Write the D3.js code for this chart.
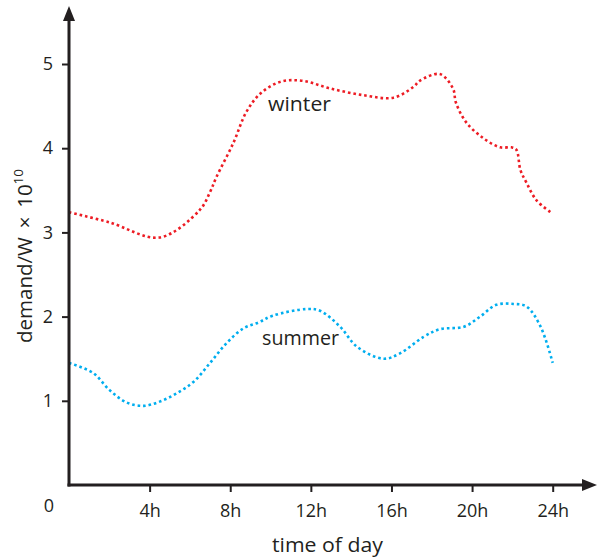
<!DOCTYPE html>
<html><head><meta charset="utf-8">
<script src="https://cdn.jsdelivr.net/npm/d3@7"></script>
<style>body{margin:0;background:#fff}svg{display:block}text{font-family:"Open Sans","Noto Sans",sans-serif;fill:#231f20}</style>
</head><body>
<svg id="c" width="597" height="557"></svg>
<script>
const winterHours = [0,2,4.5,6.5,7,7.3,8.15,8.8,9.5,10.5,11.6,12.95,14.6,16.1,17.1,17.4,18.4,19.05,19.2,19.7,20.55,21.4,21.97,22.2,22.4,22.7,23.2,23.95];
const winterValues = [3.24,3.12,2.94,3.27,3.48,3.65,4.06,4.43,4.65,4.79,4.80,4.71,4.63,4.60,4.73,4.80,4.88,4.71,4.54,4.31,4.12,4.01,4.01,3.98,3.74,3.59,3.38,3.23];
const summerHours = [0,1.2,2,2.86,3.7,4.5,5.35,6.2,7,7.8,8.65,9.4,10.1,11.8,12.45,13.45,14.3,15.6,16.4,17.6,18.4,19.6,20.4,21.2,22.05,22.7,23.4,24];
const summerValues = [1.45,1.33,1.13,0.98,0.94,0.99,1.09,1.23,1.45,1.68,1.86,1.93,2.01,2.09,2.07,1.88,1.64,1.50,1.56,1.76,1.85,1.88,2.00,2.14,2.15,2.12,1.88,1.45];
const xTicks = [4,8,12,16,20,24];
const xTickLabels = ["4h","8h","12h","16h","20h","24h"];
const yTicks = [1,2,3,4,5];

const svg = d3.select("#c");
const x = d3.scaleLinear().domain([0,24]).range([69,552.7]);
const y = d3.scaleLinear().domain([0,5]).range([485,64]);
const ink = "#231f20";

const line = d3.line().x(d=>x(d[0])).y(d=>y(d[1])).curve(d3.curveCatmullRom.alpha(0.5));
function series(h,v,color){
  svg.append("path").datum(h.map((t,i)=>[t,v[i]])).attr("d",line)
    .attr("fill","none").attr("stroke",color).attr("stroke-width",2.6)
    .attr("stroke-dasharray","2.6,2.9");
}
series(winterHours,winterValues,"#ed1c24");
series(summerHours,summerValues,"#00aeef");

// axes
const yAxis = d3.axisLeft(y).tickValues(yTicks).tickSize(7).tickPadding(9).tickFormat(d3.format("d"));
const gy = svg.append("g").attr("transform","translate(69,0)").call(yAxis);
gy.select(".domain").remove();
gy.selectAll(".tick line").attr("stroke",ink).attr("stroke-width",2);
gy.selectAll(".tick text").attr("font-size",18).style("font-family","'Open Sans',sans-serif").attr("fill",ink);

const xAxis = d3.axisBottom(x).tickValues(xTicks).tickSize(7).tickPadding(12).tickFormat((d,i)=>xTickLabels[i]);
const gx = svg.append("g").attr("transform","translate(0,485)").call(xAxis);
gx.select(".domain").remove();
gx.selectAll(".tick line").attr("stroke",ink).attr("stroke-width",2);
gx.selectAll(".tick text").attr("font-size",18).style("font-family","'Open Sans',sans-serif").attr("fill",ink);

// axis lines with arrows
svg.append("line").attr("x1",69).attr("y1",486.5).attr("x2",69).attr("y2",18).attr("stroke",ink).attr("stroke-width",3);
svg.append("line").attr("x1",67.5).attr("y1",485).attr("x2",588).attr("y2",485).attr("stroke",ink).attr("stroke-width",3);
svg.append("path").attr("d","M69,6 L75,21 L63,21 Z").attr("fill",ink);
svg.append("path").attr("d","M597,485 L582,479 L582,491 Z").attr("fill",ink);

svg.append("text").attr("x",49).attr("y",512).attr("text-anchor","middle").attr("font-size",18).text("0");

// labels
svg.append("text").attr("x",272).attr("y",551.5).attr("font-size",20.5)
  .attr("textLength",111).attr("lengthAdjust","spacingAndGlyphs").text("time of day");
const yl = svg.append("text").attr("transform","translate(32,343) rotate(-90)").attr("font-size",20.5);
yl.append("tspan").text("demand/W \u2009\u00d7\u2009 10");
yl.append("tspan").attr("font-size",13.5).attr("dy",-9).text("10");

svg.append("text").attr("x",268).attr("y",110.5).attr("font-size",20.5)
  .attr("textLength",63).attr("lengthAdjust","spacingAndGlyphs").text("winter");
svg.append("text").attr("x",262).attr("y",345).attr("font-size",20.5)
  .attr("textLength",77).attr("lengthAdjust","spacingAndGlyphs").text("summer");
</script>
</body></html>
